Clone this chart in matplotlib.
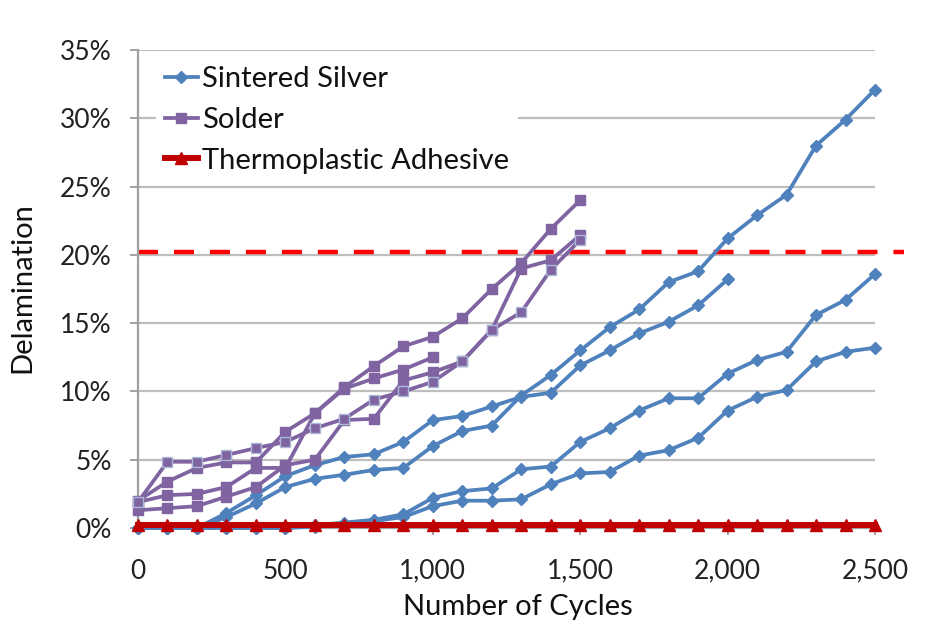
import matplotlib
matplotlib.use("Agg")
import matplotlib.pyplot as plt
from matplotlib.ticker import FuncFormatter, MultipleLocator

plt.rcParams['font.family'] = ['Lato', 'DejaVu Sans']
plt.rcParams['lines.scale_dashes'] = False

# ---------------- data ----------------
cycles = [0, 100, 200, 300, 400, 500, 600, 700, 800, 900, 1000,
          1100, 1200, 1300, 1400, 1500, 1600, 1700, 1800, 1900, 2000,
          2100, 2200, 2300, 2400, 2500]

# Sintered silver samples (% delamination)
silver_1 = [0, 0, 0, 1.1, 2.4, 3.8, 4.6, 5.2, 5.4, 6.3, 7.9, 8.2, 8.9, 9.6, 9.9,
            11.9, 13.0, 14.25, 15.1, 16.3, 18.2]
silver_2 = [0, 0, 0, 0.8, 1.8, 3.0, 3.6, 3.9, 4.25, 4.4, 6.0, 7.1, 7.5, 9.7, 11.2,
            13.0, 14.7, 16.0, 18.0, 18.8, 21.2, 22.9, 24.4, 28.0, 29.9, 32.1]
silver_3 = [0, 0, 0, 0, 0, 0, 0.2, 0.4, 0.6, 1.0, 2.2, 2.7, 2.9, 4.3, 4.5,
            6.3, 7.3, 8.6, 9.5, 9.5, 11.3, 12.3, 12.9, 15.6, 16.7, 18.6]
silver_4 = [0, 0, 0, 0, 0, 0, 0.1, 0.3, 0.5, 0.8, 1.6, 2.0, 2.0, 2.1, 3.2,
            4.0, 4.1, 5.3, 5.7, 6.6, 8.6, 9.6, 10.1, 12.2, 12.9, 13.2]

# Solder samples
solder_1 = [2.0, 3.4, 4.4, 4.8, 4.8, 7.05, 8.4, 10.3, 11.85, 13.3, 14.0,
            15.35, 17.5, 19.4, 21.9, 24.0]
solder_2 = [1.9, 2.4, 2.5, 3.0, 4.4, 4.4, 8.4, 10.2, 10.95, 11.6, 12.5]
solder_3 = [1.3, 1.45, 1.6, 2.3, 3.0, 4.6, 5.0, 7.9, 8.0, 10.8, 11.4,
            12.2, 14.5, 19.0, 19.6, 21.45]
solder_4 = [1.9, 4.85, 4.85, 5.35, 5.85, 6.3, 7.3, 8.0, 9.4, 10.0, 10.7,
            12.2, 14.5, 15.8, 18.9, 21.1]

# Thermoplastic adhesive
thermo = [0.2] * 26

threshold = 20.2
threshold_span = [0, 2600]

labels = ["Sintered Silver", "Solder", "Thermoplastic Adhesive"]

# ---------------- style ----------------
BLUE = "#4F81BD"
PURPLE = "#8064A2"
DKRED = "#C00000"
RED = "#FF0000"
GRID = "#BEBEBE"
AXIS = "#A0A0A0"

fig = plt.figure(figsize=(9.26, 6.33), dpi=100)
ax = fig.add_axes([138/926, 1-528/633, 737/926, 478/633])
ax.set_xlim(0, 2500)
ax.set_ylim(0, 35)

ax.yaxis.set_major_locator(MultipleLocator(5))
ax.xaxis.set_major_locator(MultipleLocator(500))
ax.yaxis.set_major_formatter(FuncFormatter(lambda v, p: f"{v:.0f}%"))
ax.xaxis.set_major_formatter(FuncFormatter(lambda v, p: f"{v:,.0f}"))

ax.yaxis.grid(True, color=GRID, lw=1.6)
ax.set_axisbelow(True)
for s in ["top", "right"]:
    ax.spines[s].set_visible(False)
ax.spines["left"].set_color(AXIS)
ax.spines["left"].set_linewidth(1.6)
ax.spines["bottom"].set_color(AXIS)
ax.spines["bottom"].set_linewidth(1.6)

ax.tick_params(axis="y", length=6, width=1.4, color=AXIS, pad=13,
               labelsize=19, labelcolor="#222222")
ax.tick_params(axis="x", length=5, width=1.4, color=AXIS, pad=17,
               labelsize=19, labelcolor="#222222")

# threshold
ax.plot(threshold_span, [threshold, threshold], color=RED, lw=3.2,
        dashes=(14.4, 11.5), clip_on=False, zorder=1.5)

silver_series = [silver_1, silver_2, silver_3, silver_4]
solder_series = [solder_1, solder_2, solder_3, solder_4]

handles = []
for i, s in enumerate(silver_series):
    h, = ax.plot(cycles[:len(s)], s, color=BLUE, lw=2.7, marker="D",
                 markersize=6, markerfacecolor=BLUE, markeredgecolor=BLUE,
                 clip_on=False, zorder=3)
    if i == 0:
        handles.append(h)

for i, s in enumerate(solder_series):
    edge = "#A9B8D6" if i == 3 else PURPLE
    h, = ax.plot(cycles[:len(s)], s, color=PURPLE, lw=2.7, marker="s",
                 markersize=7.5, markerfacecolor=PURPLE, markeredgecolor=edge,
                 markeredgewidth=1.0, clip_on=False, zorder=3.2)
    if i == 0:
        handles.append(h)

h, = ax.plot(cycles[:len(thermo)], thermo, color=DKRED, lw=4.3, marker="^",
             markersize=8, markerfacecolor=DKRED, markeredgecolor=DKRED,
             clip_on=False, zorder=4)
handles.append(h)

leg = ax.legend(handles, labels, loc="upper left",
                bbox_to_anchor=(0.0246, 0.985), fontsize=21, frameon=True,
                facecolor="white", edgecolor="none", framealpha=1.0,
                handlelength=1.13, handletextpad=0.15, labelspacing=0.51,
                numpoints=1, borderpad=0.3, borderaxespad=0.0, fancybox=False)
leg.set_zorder(5)
for t in leg.get_texts():
    t.set_color("#111111")

ax.set_xlabel("Number of Cycles", fontsize=21, color="#111111")
ax.xaxis.set_label_coords(0.516, -0.165)
ax.xaxis.label.set_va("center")
ax.set_ylabel("Delamination", fontsize=21, color="#111111")
ax.yaxis.set_label_coords(-0.157, 0.502)
ax.yaxis.label.set_va("center")

fig.savefig("out.png", dpi=100)
